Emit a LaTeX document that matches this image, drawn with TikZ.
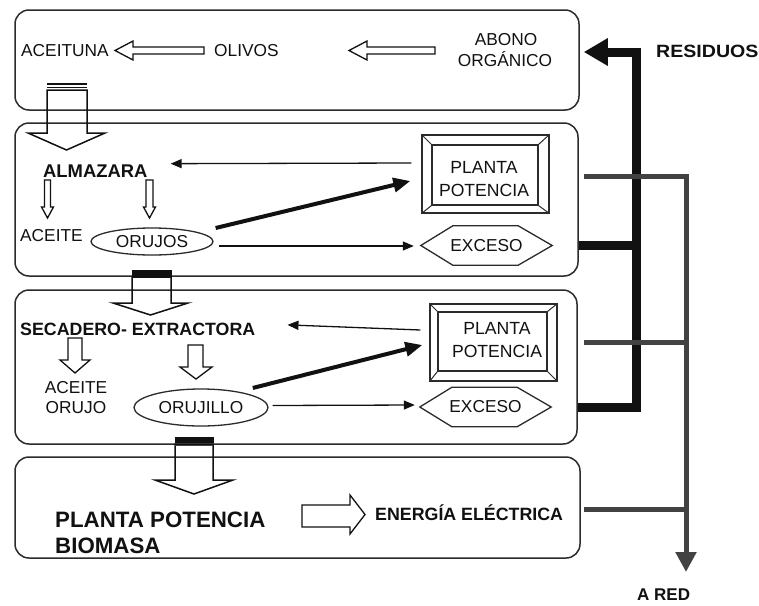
\documentclass[tikz,border=0pt]{standalone}
\usepackage{fontspec}
\setmainfont{Liberation Sans}
\usetikzlibrary{arrows.meta,shapes.geometric,calc}

\definecolor{ink}{HTML}{111111}
\definecolor{frame}{HTML}{2B2B2B}
\definecolor{wire}{HTML}{424242}

\begin{document}
\begin{tikzpicture}[x=1pt,y=-1pt,
  stage/.style={draw=frame, line width=1.5pt, rounded corners=14pt, inner sep=0pt},
  hollow/.style={draw=ink, line width=1.3pt, line join=miter},
  lbl/.style={inner sep=0pt, text=ink, font=\fontsize{17.3}{20}\selectfont},
  blbl/.style={inner sep=0pt, text=ink, font=\fontsize{17.8}{20}\selectfont\bfseries},
  oval/.style={draw=frame, line width=1.3pt, ellipse, inner sep=0pt},
  slot/.style={inner sep=0pt, minimum width=131pt, minimum height=39pt},
  bevel/.style={draw=frame, line width=1.3pt, inner sep=0pt},
  thinflow/.style={draw=ink, line width=1.3pt, -{Triangle[length=11pt,width=9pt]}},
  feed/.style={draw=ink, line width=4pt, -{Triangle[length=17pt,width=14pt]}},
  waste/.style={draw=ink, line width=9pt},
  powerline/.style={draw=wire, line width=5pt},
]
\useasboundingbox (0,0) rectangle (759,605);
\fill[white] (0,0) rectangle (759,605);

% ---- the four stages ----
\node[stage, minimum width=564pt, minimum height=100pt] (s1) at (297,60) {};
\node[stage, minimum width=563pt, minimum height=153pt] (s2) at (296.5,199.5) {};
\node[stage, minimum width=562pt, minimum height=154pt] (s3) at (296,367) {};
\node[stage, minimum width=565pt, minimum height=101pt] (s4) at (297.5,507.5) {};

% ---- stage 1: olive grove ----
\node[lbl, anchor=base west] (aceituna) at (21,56.5) {ACEITUNA};
\node[lbl, anchor=base west] (olivos) at (214,56.5) {OLIVOS};
\node[lbl, anchor=base] (abono) at (506,45) {ABONO};
\node[lbl, anchor=base] (organico) at (505,66) {ORGÁNICO};
\draw[hollow] (115,50.5) -- (133,41) -- (133,47) -- (204,47) -- (204,54) -- (133,54) -- (133,60) -- cycle;
\draw[hollow] (349,50.5) -- (367,41) -- (367,47) -- (435,47) -- (435,54) -- (367,54) -- (367,60) -- cycle;

% big arrow from stage 1 to stage 2
\draw[hollow, line width=1.5pt] (47,90) -- (87,90) -- (87,133) -- (105,133) -- (66.5,150) -- (28,133) -- (47,133) -- cycle;
\draw[ink, line width=1.8pt] (47,84) -- (87,84);
\draw[ink, line width=1.8pt] (47,87.5) -- (87,87.5);

% ---- stage 2: almazara ----
\node[blbl, anchor=base west, font=\fontsize{18.4}{20}\selectfont\bfseries] (alm) at (43,177) {ALMAZARA};
\node[lbl, anchor=base west] (aceite) at (20,241) {ACEITE};
\node[oval, minimum width=122pt, minimum height=27pt] (oru1) at (152,241.5) {};
\node[lbl] at (oru1) {ORUJOS};
\draw[hollow] (44.5,180) -- (50.5,180) -- (50.5,207) -- (53.5,207) -- (47.5,218) -- (41.5,207) -- (44.5,207) -- cycle;
\draw[hollow] (146,180) -- (153,180) -- (153,207) -- (155.5,207) -- (149.5,218) -- (143.5,207) -- (146,207) -- cycle;

% bevelled power plant
\node[bevel, minimum width=127pt, minimum height=78pt] (pp1) at (485.5,174) {};
\node[bevel, minimum width=106pt, minimum height=60pt] (pp1i) at (485,175) {};
\draw[frame, line width=1pt] (pp1.north west) -- (pp1i.north west) (pp1.north east) -- (pp1i.north east)
  (pp1.south west) -- (pp1i.south west) (pp1.south east) -- (pp1i.south east);
\node[lbl, align=center, font=\fontsize{17.6}{23.5}\selectfont] at (484,179) {PLANTA\\POTENCIA};

% surplus slot
\node[slot] (ex1) at (486.5,245.5) {};
\draw[frame, line width=1.3pt] (ex1.west) -- ([xshift=32pt]ex1.north west) -- ([xshift=-34pt]ex1.north east)
  -- (ex1.east) -- ([xshift=-34pt]ex1.south east) -- ([xshift=32pt]ex1.south west) -- cycle;
\node[lbl] at (ex1) {EXCESO};

\draw[thinflow] ([xshift=-10pt,yshift=11pt]pp1.west) -- ([xshift=23pt,yshift=7pt]alm.east);
\draw[feed] ([xshift=2pt,yshift=13.5pt]oru1.east) -- ([xshift=-11pt,yshift=-7pt]pp1.west);
\draw[thinflow] ([xshift=5pt,yshift=-4.5pt]oru1.east) -- ([xshift=-7pt,yshift=-0.5pt]ex1.west);

% arrow from stage 2 to stage 3
\draw[hollow, line width=1.5pt] (132,277) -- (171,277) -- (171,303) -- (188,303) -- (150.5,315) -- (113,303) -- (132,303) -- cycle;
\fill[ink] (131.5,270) rectangle (171.5,278);

% ---- stage 3: drier / extractor ----
\node[blbl, anchor=base west] (sec) at (20,335) {SECADERO- EXTRACTORA};
\node[lbl, anchor=base] (aceo1) at (76,393) {ACEITE};
\node[lbl, anchor=base] (aceo2) at (76,413) {ORUJO};
\node[oval, minimum width=134pt, minimum height=37pt] (oru2) at (201,407.5) {};
\node[lbl] at (oru2) {ORUJILLO};
\draw[hollow] (68,338) -- (82,338) -- (82,360) -- (90,360) -- (75,373) -- (60,360) -- (68,360) -- cycle;
\draw[hollow] (188,345) -- (203,345) -- (203,367) -- (212,367) -- (196,379) -- (180,367) -- (188,367) -- cycle;

\node[bevel, minimum width=127pt, minimum height=77pt] (pp2) at (493.5,342.5) {};
\node[bevel, minimum width=109pt, minimum height=59pt] (pp2i) at (492.5,341.5) {};
\draw[frame, line width=1pt] (pp2.north west) -- (pp2i.north west) (pp2.north east) -- (pp2i.north east)
  (pp2.south west) -- (pp2i.south west) (pp2.south east) -- (pp2i.south east);
\node[lbl, align=center, font=\fontsize{17.6}{23}\selectfont] at (497,340) {PLANTA\\POTENCIA};

\node[slot] (ex2) at (485.5,407) {};
\draw[frame, line width=1.3pt] (ex2.west) -- ([xshift=32pt]ex2.north west) -- ([xshift=-34pt]ex2.north east)
  -- (ex2.east) -- ([xshift=-34pt]ex2.south east) -- ([xshift=32pt]ex2.south west) -- cycle;
\node[lbl] at (ex2) {EXCESO};

\draw[thinflow] ([xshift=-9pt,yshift=12.5pt]pp2.west) -- ([xshift=32pt,yshift=4pt]sec.east);
\draw[feed] ([xshift=4pt,yshift=6pt]oru2.north east) -- ([xshift=-7pt,yshift=-2.5pt]pp2.west);
\draw[thinflow] ([xshift=4pt,yshift=2pt]oru2.east) -- ([xshift=-5pt,yshift=2pt]ex2.west);

% arrow from stage 3 to stage 4
\draw[hollow, line width=1.5pt] (175,444) -- (213,444) -- (213,480) -- (233,480) -- (194,494) -- (155,480) -- (175,480) -- cycle;
\fill[ink] (174.5,437) rectangle (213.5,443);
\draw[wire, line width=1pt] (175,445) -- (213,445);

% ---- stage 4: biomass plant ----
\node[blbl, anchor=base west, font=\fontsize{22.3}{24}\selectfont\bfseries] (pb1) at (55,527) {PLANTA POTENCIA};
\node[blbl, anchor=base west, font=\fontsize{22.3}{24}\selectfont\bfseries] (pb2) at (55,553) {BIOMASA};
\draw[hollow] (302,505) -- (350,505) -- (350,495) -- (365,514.5) -- (350,534) -- (350,527) -- (302,527) -- cycle;
\node[blbl, anchor=base west] (energia) at (375,520) {ENERGÍA ELÉCTRICA};

% ---- residues returned to the grove ----
\node[blbl, anchor=base west] (residuos) at (656,57) {\scalebox{1.1}[1]{RESIDUOS}};
\draw[waste, line join=miter, -{Triangle[length=24pt,width=26pt]}]
  ([yshift=-40pt]s3.east) -- (636,407) -- (636,52) -- ([xshift=4pt,yshift=8pt]s1.east);
\draw[waste] ([yshift=-45.5pt]s2.east) -- (636,245);

% ---- electricity to the grid ----
\node[blbl, anchor=base west, font=\fontsize{17}{20}\selectfont\bfseries] (ared) at (637,600) {A RED};
\draw[powerline, line join=miter, -{Triangle[length=20pt,width=20pt]}]
  ([xshift=5pt,yshift=23.5pt]s2.east) -- (686,176) -- (686,572);
\draw[powerline] ([xshift=6pt,yshift=25pt]s3.east) -- (686,342);
\draw[powerline] ([xshift=3pt,yshift=-1.5pt]s4.east) -- (686,509);
\end{tikzpicture}
\end{document}
